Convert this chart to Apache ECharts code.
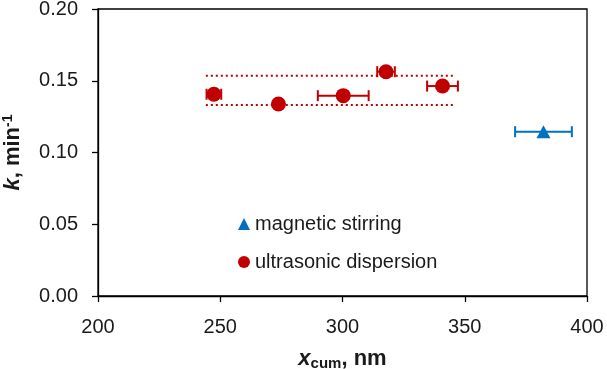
<!DOCTYPE html>
<html>
<head>
<meta charset="utf-8">
<script src="https://cdn.jsdelivr.net/npm/echarts@6/dist/echarts.min.js"></script>
<style>html,body{margin:0;padding:0;background:#fff}#c{width:607px;height:369px}</style>
</head>
<body>
<div id="c"></div>
<script>
// Ultrasonic dispersion
const udX = [247.4, 273.8, 300.3, 317.8, 340.9];
const udK = [0.1406, 0.1338, 0.1396, 0.1563, 0.1463];
const udErr = [3.0, 0, 10.4, 3.6, 6.3];
// Magnetic stirring
const msX = [382.2];
const msK = [0.1145];
const msErr = [11.6];
// Dotted band (mean ± sd)
const bandX = [244.1, 345.2];
const bandUpper = 0.1535;
const bandLower = 0.1331;
// Axis ranges
const xRange = [200, 400, 50];
const yRange = [0, 0.20, 0.05];

const RED = '#C00000', BLUE = '#0070C0';
const FONT = 'Liberation Sans, Arial, sans-serif';
const TXT = '#1a1a1a';

function errData(xs, ks, es) { return xs.map((x, i) => [x, ks[i], es[i]]); }
function errRender(color) {
  return function (params, api) {
    const x = api.value(0), k = api.value(1), e = api.value(2);
    if (!e) return null;
    const p1 = api.coord([x - e, k]), p2 = api.coord([x + e, k]);
    const h = 5.5;
    const st = { stroke: color, lineWidth: 2 };
    return { type: 'group', children: [
      { type: 'line', shape: { x1: p1[0], y1: p1[1], x2: p2[0], y2: p2[1] }, style: st },
      { type: 'line', shape: { x1: p1[0], y1: p1[1] - h, x2: p1[0], y2: p1[1] + h }, style: st },
      { type: 'line', shape: { x1: p2[0], y1: p2[1] - h, x2: p2[0], y2: p2[1] + h }, style: st }
    ]};
  };
}

const chart = echarts.init(document.getElementById('c'), null, { renderer: 'canvas' });
chart.setOption({
  animation: false,
  textStyle: { fontFamily: FONT },
  grid: { left: 98, right: 20, top: 9, bottom: 73, containLabel: false, outerBoundsMode: 'none',
    show: true, borderColor: '#000', borderWidth: 1.3, backgroundColor: 'transparent' },
  xAxis: {
    type: 'value', min: xRange[0], max: xRange[1], interval: xRange[2],
    axisLine: { lineStyle: { color: '#000', width: 1.3 } },
    axisTick: { length: 6, lineStyle: { color: '#000', width: 1.3 } },
    splitLine: { show: false },
    axisLabel: { color: TXT, fontSize: 20, margin: 21, fontFamily: FONT },
    name: '{b|x}{s|cum}{n|, nm}', nameLocation: 'middle', nameGap: 50,
    nameTextStyle: { rich: {
      b: { fontSize: 22, fontWeight: 'bold', fontStyle: 'italic', color: TXT, fontFamily: FONT },
      s: { fontSize: 15, fontWeight: 'bold', color: TXT, padding: [10, 0, 0, 0], fontFamily: FONT },
      n: { fontSize: 22, fontWeight: 'bold', color: TXT, fontFamily: FONT }
    } }
  },
  yAxis: {
    type: 'value', min: yRange[0], max: yRange[1], interval: yRange[2],
    axisLine: { lineStyle: { color: '#000', width: 1.3 } },
    axisTick: { length: 6, lineStyle: { color: '#000', width: 1.3 } },
    splitLine: { show: false },
    axisLabel: { color: TXT, fontSize: 20, margin: 20, formatter: v => v.toFixed(2), fontFamily: FONT },
    name: '{i|k}{n|, min}{s|-1}', nameLocation: 'middle', nameGap: 73,
    nameTextStyle: { rich: {
      i: { fontSize: 22, fontWeight: 'bold', fontStyle: 'italic', color: TXT, fontFamily: FONT },
      n: { fontSize: 22, fontWeight: 'bold', color: TXT, fontFamily: FONT },
      s: { fontSize: 14, fontWeight: 'bold', color: TXT, padding: [0, 0, 10, 0], fontFamily: FONT }
    } }
  },
  legend: {
    orient: 'vertical', left: 233, top: 209, itemGap: 18, itemWidth: 12, itemHeight: 12,
    textStyle: { fontSize: 20, color: TXT, fontFamily: FONT },
    data: [
      { name: 'magnetic stirring', icon: 'triangle', itemStyle: { color: BLUE } },
      { name: 'ultrasonic dispersion', icon: 'circle', itemStyle: { color: RED } }
    ]
  },
  series: [
    { type: 'line', name: 'band-up', data: [[bandX[0], bandUpper], [bandX[1], bandUpper]], symbol: 'none', silent: true,
      lineStyle: { color: RED, width: 2, type: [2, 3] }, z: 1 },
    { type: 'line', name: 'band-low', data: [[bandX[0], bandLower], [bandX[1], bandLower]], symbol: 'none', silent: true,
      lineStyle: { color: RED, width: 2, type: [2, 3] }, z: 1 },
    { type: 'custom', name: 'err-ud', renderItem: errRender(RED), data: errData(udX, udK, udErr), z: 2 },
    { type: 'custom', name: 'err-ms', renderItem: errRender(BLUE), data: errData(msX, msK, msErr), z: 2 },
    { type: 'scatter', name: 'magnetic stirring', symbol: 'triangle', symbolSize: [14, 13],
      itemStyle: { color: BLUE, opacity: 1 }, data: msX.map((x, i) => [x, msK[i]]), z: 3 },
    { type: 'scatter', name: 'ultrasonic dispersion', symbol: 'circle', symbolSize: 15,
      itemStyle: { color: RED, opacity: 1 }, data: udX.map((x, i) => [x, udK[i]]), z: 3 }
  ]
});
</script>
</body>
</html>
